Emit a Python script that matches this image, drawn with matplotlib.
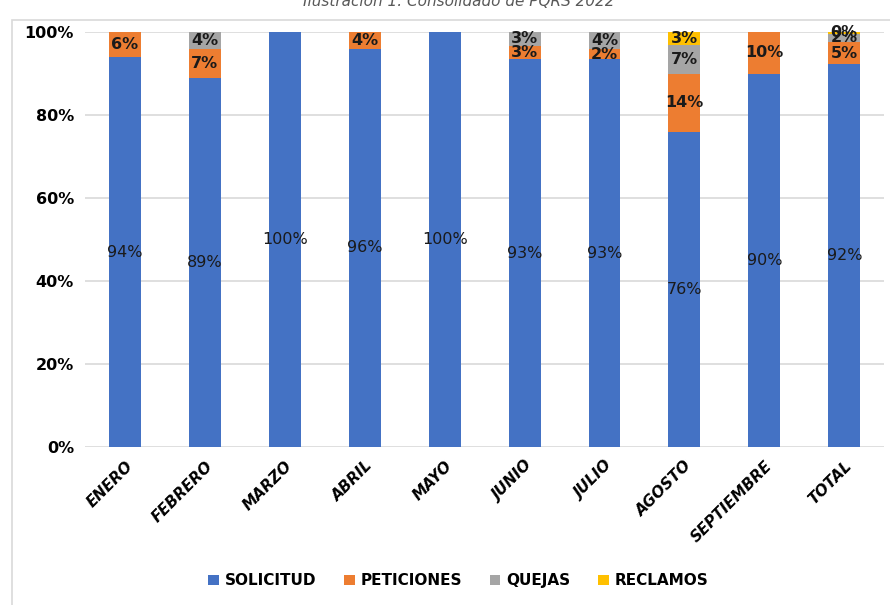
import matplotlib.pyplot as plt
import numpy as np
from matplotlib.patches import Rectangle

meses = ["ENERO", "FEBRERO", "MARZO", "ABRIL", "MAYO", "JUNIO", "JULIO",
         "AGOSTO", "SEPTIEMBRE", "TOTAL"]
solicitud = [94, 89, 100, 96, 100, 93.4, 93.4, 76, 90, 92.3]
peticiones = [6, 7, 0, 4, 0, 3.3, 2.4, 14, 10, 5.3]
quejas = [0, 4, 0, 0, 0, 3.3, 4.2, 7, 0, 2.0]
reclamos = [0, 0, 0, 0, 0, 0, 0, 3, 0, 0.4]

series = [("SOLICITUD", solicitud, "#4472C4", "normal"),
          ("PETICIONES", peticiones, "#ED7D31", "bold"),
          ("QUEJAS", quejas, "#A5A5A5", "bold"),
          ("RECLAMOS", reclamos, "#FFC000", "bold")]

fig = plt.figure(figsize=(8.9, 6.05), dpi=100)
fig.patches.append(Rectangle((12 / 890, -0.01), 1.0, 1 - 20 / 605 + 0.01,
                             transform=fig.transFigure, fill=False,
                             edgecolor="#D9D9D9", linewidth=1.2))
fig.text(0.515, 0.998, "Ilustración 1. Consolidado de PQRS 2022",
         ha="center", va="center", style="italic", fontsize=11, color="#595959")

ax = fig.add_axes([0.0955, 0.261, 0.898, 0.686])
x = np.arange(len(meses))
bottom = np.zeros(len(meses))
for nombre, vals, color, peso in series:
    vals = np.array(vals, dtype=float)
    ax.bar(x, vals, 0.4, bottom=bottom, color=color, label=nombre, zorder=2)
    for xi, b, v in zip(x, bottom, vals):
        if v > 0:
            ax.text(xi, b + v / 2, f"{v:.0f}%", ha="center", va="center",
                    fontsize=11.5, fontweight=peso, color="#1a1a1a", zorder=3)
    bottom += vals

ax.set_xlim(-0.5, len(meses) - 0.5)
ax.set_ylim(0, 100)
ax.set_yticks(np.arange(0, 101, 20))
ax.set_yticklabels([f"{t}%" for t in range(0, 101, 20)],
                   fontsize=11.5, fontweight="bold")
ax.set_xticks(x)
ax.set_xticklabels(meses, rotation=45, ha="right", rotation_mode="anchor",
                   fontsize=11, fontweight="bold", style="italic")
ax.tick_params(length=0, pad=8)
ax.yaxis.grid(True, color="#D9D9D9", linewidth=1.2, zorder=0)
for s in ax.spines.values():
    s.set_visible(False)

fig.legend(loc="center", bbox_to_anchor=(0.515, 0.04), ncol=4, frameon=False,
           handlelength=0.7, handleheight=0.7, handletextpad=0.4,
           columnspacing=1.8, prop={"weight": "bold", "size": 11})

fig.savefig("out.png", dpi=100)
